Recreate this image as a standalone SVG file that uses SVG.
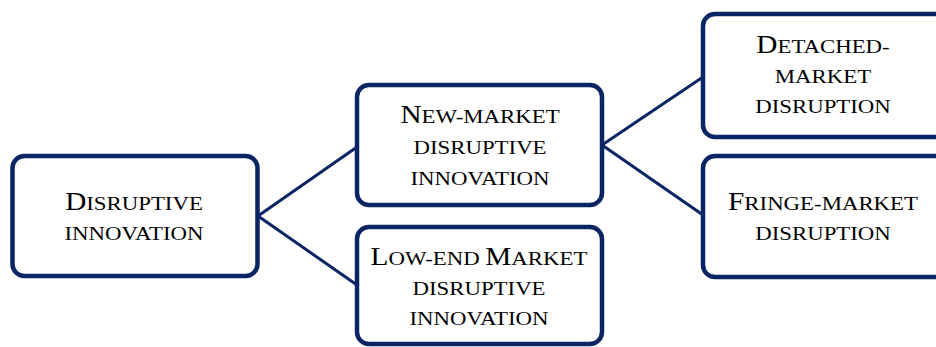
<svg xmlns="http://www.w3.org/2000/svg" width="936" height="347" viewBox="0 0 936 347">
<style>
.box{fill:#ffffff;stroke:#0a2564;stroke-width:4.5}
.con{stroke:#0a2564;stroke-width:3;fill:none}
.t{font-family:"Liberation Serif","Times New Roman",serif;font-size:19.5px;fill:#000000;text-anchor:middle}
.c{font-size:25px}
</style>
<rect width="936" height="347" fill="#ffffff"/>
<g id="connectors">
<line class="con" x1="258" y1="216" x2="357" y2="147"/>
<line class="con" x1="258" y1="216" x2="357" y2="285"/>
<line class="con" x1="602" y1="145" x2="703" y2="77"/>
<line class="con" x1="602" y1="145" x2="703" y2="215"/>
</g>
<g id="disruptive-innovation">
<rect class="box" x="12.5" y="156" width="245" height="120" rx="12"/>
<text class="t" transform="translate(134 0) scale(1.17 1)" x="0" y="210"><tspan class="c">D</tspan>ISRUPTIVE</text>
<text class="t" transform="translate(134 0) scale(1.17 1)" x="0" y="240">INNOVATION</text>
</g>
<g id="new-market">
<rect class="box" x="357" y="85" width="245" height="120" rx="12"/>
<text class="t" transform="translate(480 0) scale(1.17 1)" x="0" y="123"><tspan class="c">N</tspan>EW-MARKET</text>
<text class="t" transform="translate(480 0) scale(1.17 1)" x="0" y="154">DISRUPTIVE</text>
<text class="t" transform="translate(480 0) scale(1.17 1)" x="0" y="185">INNOVATION</text>
</g>
<g id="low-end">
<rect class="box" x="357" y="227" width="245" height="117" rx="12"/>
<text class="t" transform="translate(479 0) scale(1.17 1)" x="0" y="265"><tspan class="c">L</tspan>OW-END <tspan class="c">M</tspan>ARKET</text>
<text class="t" transform="translate(479 0) scale(1.17 1)" x="0" y="295">DISRUPTIVE</text>
<text class="t" transform="translate(479 0) scale(1.17 1)" x="0" y="325">INNOVATION</text>
</g>
<g id="detached-market">
<rect class="box" x="703" y="14" width="245" height="123" rx="12"/>
<text class="t" transform="translate(823 0) scale(1.17 1)" x="0" y="53"><tspan class="c">D</tspan>ETACHED-</text>
<text class="t" transform="translate(823 0) scale(1.17 1)" x="0" y="83">MARKET</text>
<text class="t" transform="translate(823 0) scale(1.17 1)" x="0" y="113">DISRUPTION</text>
</g>
<g id="fringe-market">
<rect class="box" x="703" y="156" width="245" height="121" rx="12"/>
<text class="t" transform="translate(823 0) scale(1.17 1)" x="0" y="210"><tspan class="c">F</tspan>RINGE-MARKET</text>
<text class="t" transform="translate(823 0) scale(1.17 1)" x="0" y="240">DISRUPTION</text>
</g>
</svg>
